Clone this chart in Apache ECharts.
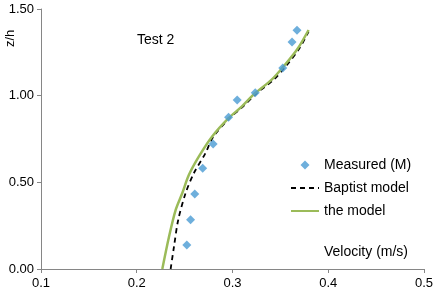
<!DOCTYPE html>
<html>
<head>
<meta charset="utf-8">
<script src="https://cdn.jsdelivr.net/npm/echarts@6/dist/echarts.min.js"></script>
<style>
  html, body { margin: 0; padding: 0; background: #fff; }
  #chart { width: 436px; height: 293px; }
</style>
</head>
<body>
<div id="chart"></div>
<script>
  // measured velocity profile (velocity m/s, z/h)
  var measuredU = [0.2523, 0.2562, 0.2606, 0.2689, 0.2798, 0.2959, 0.3049, 0.3238, 0.3525, 0.3622, 0.3674];
  var measuredZ = [0.138, 0.284, 0.433, 0.581, 0.721, 0.875, 0.975, 1.017, 1.160, 1.310, 1.377];

  // Baptist model curve
  var baptistU = [0.2354, 0.2389, 0.2433, 0.2510, 0.2596, 0.2717, 0.2800, 0.2968, 0.3110, 0.3252, 0.3428, 0.3568, 0.3700, 0.3795];
  var baptistZ = [0, 0.129, 0.283, 0.437, 0.552, 0.668, 0.763, 0.870, 0.937, 1.014, 1.091, 1.177, 1.274, 1.370];

  // the model curve
  var modelU = [0.2267, 0.2337, 0.2406, 0.2475, 0.2544, 0.2648, 0.2786, 0.2959, 0.3096, 0.3235, 0.3407, 0.3546, 0.3684, 0.3795];
  var modelZ = [0, 0.186, 0.340, 0.437, 0.542, 0.648, 0.763, 0.870, 0.937, 1.014, 1.091, 1.177, 1.274, 1.379];

  var xTicks = [0.1, 0.2, 0.3, 0.4, 0.5];
  var yTicks = [0, 0.5, 1.0, 1.5];

  function pairs(xs, ys) {
    return xs.map(function (x, i) { return [x, ys[i]]; });
  }

  var font = 'Liberation Sans, Arial, sans-serif';
  var myChart = echarts.init(document.getElementById('chart'));

  var option = {
    animation: false,
    grid: { left: 41, right: 9, top: 9, bottom: 24 },
    legend: {
      orient: 'vertical',
      left: 285,
      top: 153,
      itemWidth: 28,
      itemHeight: 9,
      itemGap: 9,
      textStyle: { fontFamily: font, fontSize: 14, color: '#000' },
      data: [
        { name: 'Measured (M)', icon: 'path://M5,0L10,5L5,10L0,5Z' },
        { name: 'Baptist model', itemStyle: { opacity: 0 } },
        { name: 'the model', itemStyle: { opacity: 0 } }
      ]
    },
    graphic: [
      {
        type: 'text', left: 137, top: 33,
        style: { text: 'Test 2', font: '14px ' + font, fill: '#000' }
      },
      {
        type: 'text', left: 324, top: 245,
        style: { text: 'Velocity (m/s)', font: '14px ' + font, fill: '#000' }
      },
      {
        type: 'text', x: 4, y: 47, rotation: Math.PI / 2,
        style: { text: 'z/h', font: '13px ' + font, fill: '#000' }
      }
    ],
    xAxis: {
      type: 'value',
      min: xTicks[0],
      max: xTicks[xTicks.length - 1],
      interval: 0.1,
      splitLine: { show: false },
      axisLine: { lineStyle: { color: '#868686' } },
      axisTick: { show: true, length: 4, lineStyle: { color: '#868686' } },
      axisLabel: {
        fontFamily: font, fontSize: 13, color: '#000', margin: 8,
        formatter: function (v) { return v.toFixed(1); }
      }
    },
    yAxis: {
      type: 'value',
      min: yTicks[0],
      max: yTicks[yTicks.length - 1],
      interval: 0.5,
      splitLine: { show: false },
      axisLine: { show: true, lineStyle: { color: '#868686' } },
      axisTick: { show: true, length: 4, lineStyle: { color: '#868686' } },
      axisLabel: {
        fontFamily: font, fontSize: 13, color: '#000', margin: 7,
        formatter: function (v) { return v.toFixed(2); }
      }
    },
    series: [
      {
        name: 'Measured (M)',
        type: 'scatter',
        symbol: 'diamond',
        symbolSize: 9,
        itemStyle: { color: '#4a9bd3' },
        data: pairs(measuredU, measuredZ),
        z: 5
      },
      {
        name: 'Baptist model',
        type: 'line',
        smooth: 0.3,
        symbol: 'none',
        lineStyle: { color: '#000', width: 1.8, type: [5, 4] },
        itemStyle: { color: '#000' },
        data: pairs(baptistU, baptistZ),
        z: 3
      },
      {
        name: 'the model',
        type: 'line',
        smooth: 0.3,
        symbol: 'none',
        lineStyle: { color: '#9bbb59', width: 2.5 },
        itemStyle: { color: '#9bbb59' },
        data: pairs(modelU, modelZ),
        z: 4
      }
    ]
  };
  myChart.setOption(option);
</script>
</body>
</html>
